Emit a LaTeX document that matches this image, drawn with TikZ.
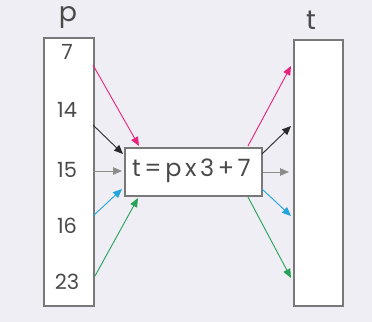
\documentclass[tikz,border=0pt]{standalone}
\usepackage{fontspec}
\setmainfont{Poppins}
\usetikzlibrary{arrows.meta}
\definecolor{bg}{HTML}{EEEEF4}
\definecolor{boxline}{HTML}{787878}
\definecolor{txt}{HTML}{4A4A4A}
\definecolor{cpink}{HTML}{E8237C}
\definecolor{cgray}{HTML}{8C8C8C}
\definecolor{cblue}{HTML}{22A5DE}
\definecolor{cgreen}{HTML}{27A259}
\definecolor{cblack}{HTML}{2A2A2A}
\tikzset{
  colbox/.style={draw=boxline, line width=1.6bp, fill=white, inner sep=0pt, anchor=north west},
  num/.style={text=txt, font=\fontsize{21}{21}\selectfont, inner sep=0pt},
  lab/.style={text=txt, font=\fontsize{27}{27}\selectfont, inner sep=0pt},
  conn/.style={line width=0.9bp, -{Triangle[length=9bp,width=7.5bp]}},
}
\newcommand{\gp}{\hspace{3.6pt}}
\begin{document}
\begin{tikzpicture}[x=1bp,y=-1bp]
\fill[bg] (0,0) rectangle (372,322);
\useasboundingbox (0,0) rectangle (372,322);
\node[colbox, minimum width=50bp, minimum height=268bp] (L) at (43,37) {};
\node[colbox, minimum width=49bp, minimum height=266bp] (R) at (293,39) {};
\node[colbox, minimum width=137bp, minimum height=48bp] (C) at (124,147) {};
\node[text=txt, font=\fontsize{24}{24}\selectfont, inner sep=0pt] (F) at (191.5,171) {t\gp=\gp p\gp x\gp 3\gp+\gp 7};
\node[lab] (pl) at (68,18) {p};
\node[lab] (tl) at (311,20) {t};
\node[num] (n7) at (67,52) {7};
\node[num] (n14) at (67,110) {14};
\node[num] (n15) at (67,170) {15};
\node[num] (n16) at (67,226) {16};
\node[num] (n23) at (67,282) {23};
% left starts
\coordinate (a1) at (93,65);
\coordinate (a2) at (93,125);
\coordinate (a3) at (93,171);
\coordinate (a4) at (93,216);
\coordinate (a5) at (95,276);
% left ends on C
\coordinate (b1) at (139,146);
\coordinate (b2) at (123,154);
\coordinate (b3) at (122,171);
\coordinate (b4) at (122,189);
\coordinate (b5) at (138,198);
% right starts on C
\coordinate (c1) at (248,146);
\coordinate (c2) at (262,154);
\coordinate (c3) at (263,172);
\coordinate (c4) at (262,189);
\coordinate (c5) at (248,197);
% right ends
\coordinate (d1) at (291,66);
\coordinate (d2) at (291,126);
\coordinate (d3) at (289,172);
\coordinate (d4) at (291,216);
\coordinate (d5) at (291,278);
\draw[conn, cpink] (a1) -- (b1);
\draw[conn, cblack] (a2) -- (b2);
\draw[conn, cgray] (a3) -- (b3);
\draw[conn, cblue] (a4) -- (b4);
\draw[conn, cgreen] (a5) -- (b5);
\draw[conn, cpink] (c1) -- (d1);
\draw[conn, cblack] (c2) -- (d2);
\draw[conn, cgray] (c3) -- (d3);
\draw[conn, cblue] (c4) -- (d4);
\draw[conn, cgreen] (c5) -- (d5);
\end{tikzpicture}
\end{document}
